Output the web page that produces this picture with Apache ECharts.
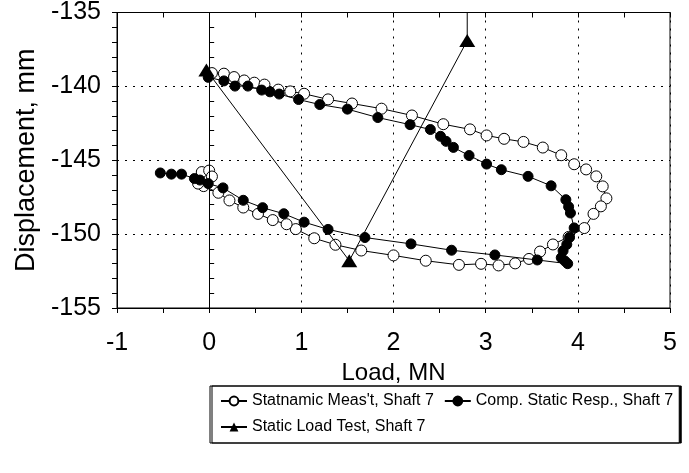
<!DOCTYPE html>
<html>
<head>
<meta charset="utf-8">
<script src="https://cdn.jsdelivr.net/npm/echarts@6/dist/echarts.min.js"></script>
<style>
  html, body { margin: 0; padding: 0; background: #fff; }
  #chart { width: 689px; height: 473px; }
</style>
</head>
<body>
<div id="chart"></div>
<script>
// Statnamic measurement, shaft 7: load (MN) and displacement (mm)
const statnamicLoad = [0.03, 0.16, 0.27, 0.38, 0.49, 0.60, 0.75, 0.88, 1.03, 1.29, 1.55, 1.87, 2.20, 2.54, 2.83, 3.01, 3.20, 3.41, 3.62, 3.82, 3.96, 4.09, 4.20, 4.27, 4.31, 4.25, 4.17, 4.07, 3.90, 3.73, 3.59, 3.47, 3.32, 3.14, 2.95, 2.71, 2.35, 2.00, 1.65, 1.37, 1.14, 0.94, 0.84, 0.69, 0.53, 0.37, 0.22, 0.10, -0.06, -0.12, -0.08, 0.00, 0.03];
const statnamicDisp = [-139.10, -139.14, -139.37, -139.60, -139.75, -139.88, -140.22, -140.34, -140.50, -140.88, -141.16, -141.51, -141.97, -142.56, -142.91, -143.32, -143.55, -143.76, -144.14, -144.66, -145.27, -145.62, -146.09, -146.77, -147.58, -148.12, -148.63, -149.59, -150.19, -150.70, -151.18, -151.68, -151.98, -152.12, -152.01, -152.08, -151.80, -151.44, -151.11, -150.72, -150.28, -149.66, -149.33, -149.05, -148.63, -148.20, -147.72, -147.20, -146.75, -146.58, -145.80, -145.70, -146.10];

// Computed static response, shaft 7
const compLoad = [-0.01, 0.16, 0.28, 0.42, 0.57, 0.66, 0.76, 0.97, 1.20, 1.50, 1.83, 2.18, 2.40, 2.51, 2.57, 2.65, 2.82, 3.01, 3.17, 3.46, 3.71, 3.87, 3.90, 3.92, 3.96, 3.91, 3.88, 3.84, 3.82, 3.86, 3.89, 3.56, 3.10, 2.63, 2.19, 1.69, 1.29, 1.03, 0.81, 0.58, 0.37, 0.15, -0.01, -0.10, -0.16, -0.30, -0.41, -0.53];
const compDisp = [-139.39, -139.63, -139.98, -139.98, -140.25, -140.37, -140.52, -140.89, -141.23, -141.54, -142.11, -142.59, -142.92, -143.38, -143.72, -144.13, -144.68, -145.26, -145.64, -146.09, -146.73, -147.67, -148.15, -148.57, -149.58, -150.22, -150.70, -151.13, -151.60, -151.82, -152.00, -151.75, -151.41, -151.09, -150.66, -150.23, -149.68, -149.19, -148.62, -148.21, -147.71, -146.87, -146.58, -146.34, -146.24, -145.94, -145.94, -145.86];

// Static load test, shaft 7 (last entry runs past the top of the plot)
const staticLoad = [-0.03, 1.52, 2.80, 2.80];
const staticDisp = [-138.9, -151.8, -136.9, -133.0];

const xTicks = { min: -1, max: 5, step: 1 };
const yTicks = { min: -155, max: -135, step: 5 };

const names = ["Statnamic Meas't, Shaft 7", "Comp. Static Resp., Shaft 7", "Static Load Test, Shaft 7"];

const FONT = "'Liberation Sans', Arial, Helvetica, sans-serif";
const pairs = (xs, ys) => xs.map((x, i) => [x, ys[i]]);

const staticData = pairs(staticLoad, staticDisp).map((p, i, arr) =>
  i === arr.length - 1 ? { value: p, symbol: 'none' } : p);

const black = '#000';

function valueAxis(base, extra) {
  return Object.assign({
    type: 'value',
    min: base.min, max: base.max, interval: base.step,
    axisLine: { show: true, onZero: false, lineStyle: { color: black, width: 1 } },
    axisTick: { show: true, length: 5, lineStyle: { color: black, width: 1 } },
    minorTick: { show: true, length: 5, lineStyle: { color: black, width: 1 } },
    splitLine: { show: false },
    axisLabel: { show: false }
  }, extra);
}

const chart = echarts.init(document.getElementById('chart'), null, { renderer: 'canvas' });

chart.setOption({
  animation: false,
  backgroundColor: '#fff',
  grid: {
    left: 117, right: 19, top: 11, bottom: 165,
    show: true, borderColor: black, borderWidth: 1, backgroundColor: 'transparent'
  },
  xAxis: [
    valueAxis(xTicks, {
      minorTick: { show: true, splitNumber: 2, length: 5, lineStyle: { color: black } },
      splitLine: { show: true, lineStyle: { color: black, type: [2, 6], width: 1 } },
      axisLabel: { show: true, color: black, fontSize: 25, fontFamily: FONT, margin: 23 },
      name: 'Load, MN', nameLocation: 'middle', nameGap: 51,
      nameTextStyle: { color: black, fontSize: 24, fontFamily: FONT }
    }),
    valueAxis(xTicks, {
      axisLine: { show: false },
      axisTick: { show: true, inside: true, length: 5, lineStyle: { color: black } },
      minorTick: { show: true, splitNumber: 2, length: 5, lineStyle: { color: black } }
    })
  ],
  yAxis: [
    valueAxis(yTicks, {
      minorTick: { show: true, splitNumber: 5, length: 5, lineStyle: { color: black } },
      splitLine: { show: true, lineStyle: { color: black, type: [2, 6], width: 1 } },
      axisLabel: { show: true, color: black, fontSize: 25, fontFamily: FONT, margin: 16 },
      name: 'Displacement, mm', nameLocation: 'middle', nameGap: 70, nameRotate: 90,
      nameTextStyle: { color: black, fontSize: 27, fontFamily: FONT }
    }),
    valueAxis(yTicks, {
      position: 'left',
      axisLine: { show: false },
      axisTick: { show: true, inside: true, length: 5, lineStyle: { color: black } },
      minorTick: { show: true, splitNumber: 5, length: 5, lineStyle: { color: black } }
    })
  ],
  legend: {
    left: 210, top: 386, width: 480,
    orient: 'horizontal',
    itemWidth: 26, itemHeight: 11, itemGap: 10,
    padding: [7, 6, 8, 10],
    borderColor: black, borderWidth: 1,
    backgroundColor: '#fff',
    shadowColor: black, shadowBlur: 0, shadowOffsetX: 2, shadowOffsetY: 0,
    textStyle: { color: black, fontSize: 16, fontFamily: FONT },
    data: names
  },
  series: [
    {
      name: names[0], type: 'line',
      data: pairs(statnamicLoad, statnamicDisp),
      symbol: 'circle', symbolSize: 11, showAllSymbol: true,
      lineStyle: { color: black, width: 1 },
      itemStyle: { color: '#fff', borderColor: black, borderWidth: 1 },
      z: 3,
      markLine: {
        silent: true, symbol: ['none', 'none'], label: { show: false },
        lineStyle: { color: black, type: 'solid', width: 1 },
        data: [{ xAxis: 0 }]
      }
    },
    {
      name: names[1], type: 'line',
      data: pairs(compLoad, compDisp),
      symbol: 'circle', symbolSize: 10, showAllSymbol: true,
      lineStyle: { color: black, width: 1 },
      itemStyle: { color: black, borderColor: black, borderWidth: 1 },
      z: 4
    },
    {
      name: names[2], type: 'line',
      data: staticData,
      symbol: 'triangle', symbolSize: [16, 13], showAllSymbol: true,
      clip: true,
      lineStyle: { color: black, width: 1 },
      itemStyle: { color: black },
      z: 5
    }
  ]
});
</script>
</body>
</html>
